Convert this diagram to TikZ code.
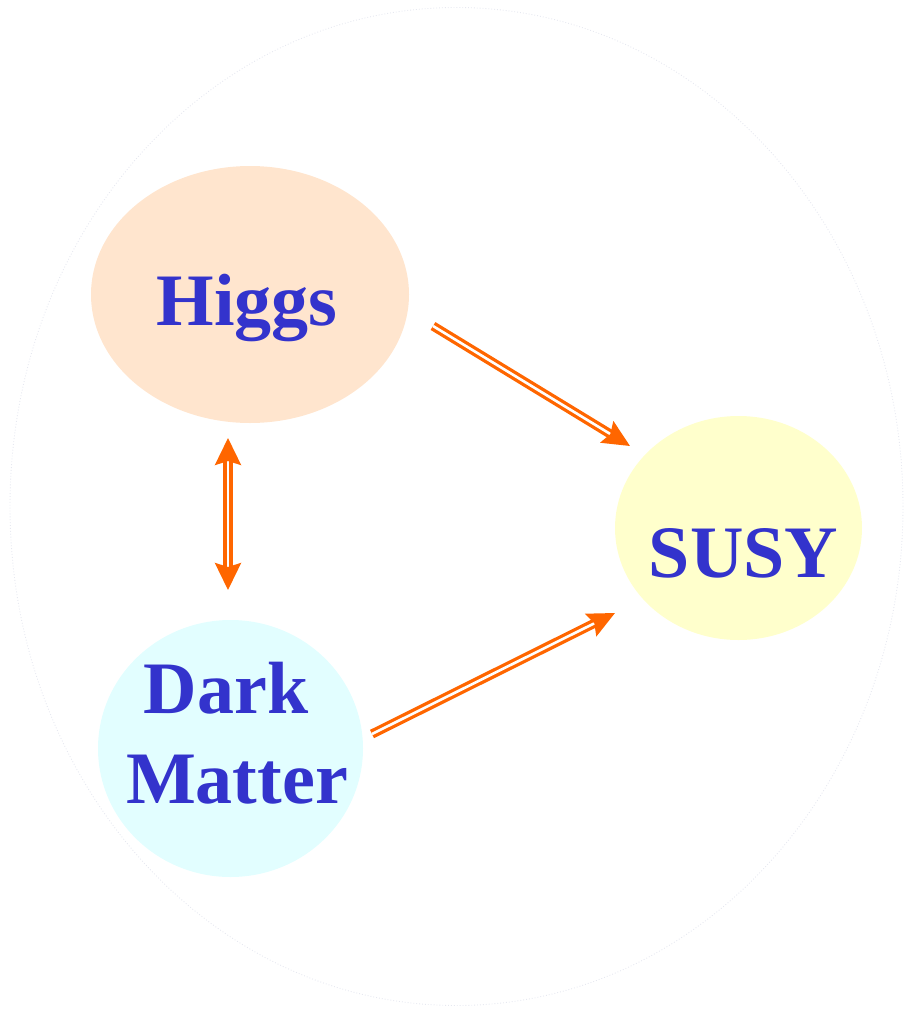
\documentclass[tikz,border=0pt]{standalone}
\usepackage{fontspec}
\setmainfont{Liberation Serif}
\usetikzlibrary{shapes.geometric,arrows.meta}
\definecolor{labelblue}{HTML}{3333CC}
\definecolor{linkorange}{HTML}{FF6600}
\definecolor{higgsfill}{HTML}{FFE5CE}
\definecolor{susyfill}{HTML}{FFFFCC}
\definecolor{dmfill}{HTML}{E2FEFF}
\definecolor{rimgray}{HTML}{E6E8F0}
\tikzset{
  blob/.style={ellipse, draw=none, inner sep=0pt},
  topic/.style={text=labelblue, font=\fontsize{74}{90}\selectfont\bfseries,
    inner sep=0pt, anchor=base},
  link/.style={draw=linkorange, double=white, double distance=2.6pt,
    line width=3.3pt},
  linktip/.style={-{Stealth[length=27pt,width=25pt,inset=4pt]}},
  bothtips/.style={{Stealth[length=27pt,width=26pt,inset=4pt]}-{Stealth[length=27pt,width=26pt,inset=4pt]}}
}
\begin{document}
\begin{tikzpicture}[x=1pt,y=-1pt]
  \useasboundingbox (0,0) rectangle (905,1009);
  % faint dotted rim around the whole scheme
  \node[blob, draw=rimgray, dotted, line width=0.9pt,
        minimum width=893pt, minimum height=998pt] (rim) at (456.5,506.5) {};
  % the three topics
  \node[blob, fill=higgsfill, minimum width=318pt, minimum height=257pt] (higgs) at (250,294.5) {};
  \node[blob, fill=susyfill, minimum width=247pt, minimum height=224pt] (susy) at (738.5,528) {};
  \node[blob, fill=dmfill, minimum width=265pt, minimum height=257pt] (dm) at (230.5,748.5) {};
  \node[topic] (higgslabel) at (247,325) {Higgs};
  \node[topic] (susylabel) at (743.5,577) {SUSY};
  \node[topic, align=center, anchor=north] (dmlabel) at (237,662) {Dark\hspace*{22pt}\\Matter};
  % connecting links
  \coordinate (hsA) at (433,326);
  \coordinate (hsB) at (630,446);
  \coordinate (dsA) at (372,734);
  \coordinate (dsB) at (615,613);
  \coordinate (hdA) at (228,438);
  \coordinate (hdB) at (228,590);
  \draw[link, linktip] (hsA) -- (hsB);
  \draw[link, linktip] (dsA) -- (dsB);
  \draw[link, bothtips] (hdA) -- (hdB);
\end{tikzpicture}
\end{document}
